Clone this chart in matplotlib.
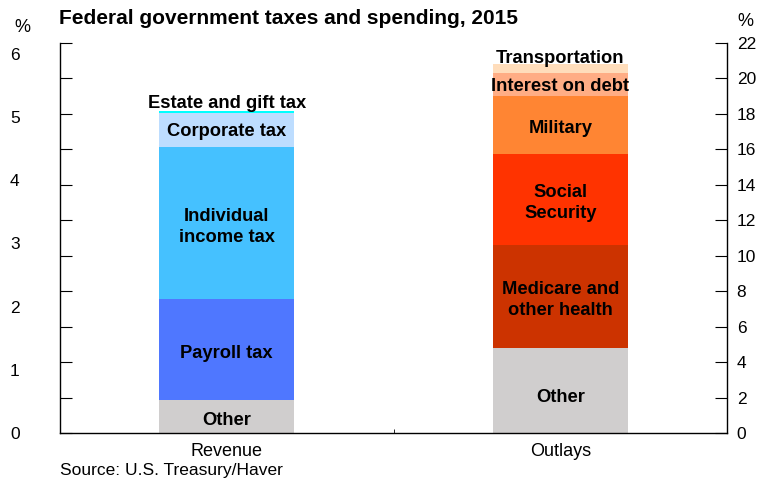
import numpy as np
import matplotlib.pyplot as plt

plt.rcParams['font.family'] = ['Liberation Sans', 'DejaVu Sans']

# Revenue and outlays, % of GDP (bottom to top)
revenue_labels = ["Other", "Payroll tax", "Individual\nincome tax", "Corporate tax", "Estate and gift tax"]
revenue_values = [1.86, 5.70, 8.57, 1.90, 0.12]
revenue_colors = ["#D0CECE", "#4F77FF", "#45C1FF", "#BDDDFF", "#00FFFF"]

outlay_labels = ["Other", "Medicare and\nother health", "Social\nSecurity", "Military",
                 "Interest on debt", "Transportation"]
outlay_values = [4.81, 5.79, 5.14, 3.28, 1.27, 0.51]
outlay_colors = ["#D0CECE", "#CC3300", "#FF3300", "#FF8533", "#FFAD85", "#FFDDBB"]

categories = ["Revenue", "Outlays"]
left_ticks = [0, 1, 2, 3, 4, 5, 6]
right_ticks = list(range(0, 23, 2))
left_scale = 6 / 21.38

my_dpi = 100
fig = plt.figure(figsize=(781 / my_dpi, 483 / my_dpi), dpi=my_dpi)
ax = fig.add_axes([60 / 781, 1 - 433 / 483, 667 / 781, 390 / 483])

width = 0.405
stacks = [(revenue_labels, revenue_values, revenue_colors),
          (outlay_labels, outlay_values, outlay_colors)]
for i, (labels, values, colors) in enumerate(stacks):
    bottom = 0
    for j, (lab, val, col) in enumerate(zip(labels, values, colors)):
        ax.bar(i, val, width, bottom=bottom, color=col, linewidth=0)
        y = bottom + val / 2 - 0.2
        if j == len(labels) - 1:
            # thin top slice: label sits just above the bar
            y = bottom + val + (0.45 if i == 0 else 0.3)
        elif j == len(labels) - 2:
            y = bottom + val / 2 - 0.1
        if i == 1 and j == 0:
            y -= 0.2
        ax.text(i, y, lab, ha='center', va='center', fontsize=13.2,
                fontweight='bold', linespacing=1.3)
        bottom += val

ax.set_xlim(-0.5, 1.5)
ax.set_ylim(0, 22)

ax.spines['top'].set_visible(False)
for s in ['left', 'right', 'bottom']:
    ax.spines[s].set_linewidth(1.0)

ax.set_xticks([0, 1])
ax.set_xticklabels(categories, fontsize=13)
ax.tick_params(axis='x', length=0, pad=7)
ax.set_xticks([0.5], minor=True)
ax.tick_params(axis='x', which='minor', direction='in', length=3)

ax.set_yticks(right_ticks)
ax.tick_params(axis='y', left=True, right=True, labelleft=False, labelright=True,
               direction='in', length=8.5, labelsize=12.5, pad=7)

# left-hand scale
sec = ax.secondary_yaxis('left', functions=(lambda y: y * left_scale, lambda y: y / left_scale))
sec.set_yticks(left_ticks)
sec.tick_params(length=0, labelsize=12.5, pad=29)
sec.spines['left'].set_visible(False)

fig.text(59 / 781, 1 - 18.5 / 483, "Federal government taxes and spending, 2015",
         fontsize=15, fontweight='bold', va='center', ha='left')
fig.text(22 / 781, 1 - 28 / 483, "%", fontsize=13, ha='center', va='center')
fig.text(745 / 781, 1 - 22 / 483, "%", fontsize=13, ha='center', va='center')
fig.text(60 / 781, 1 - 471 / 483, "Source: U.S. Treasury/Haver", fontsize=12.5,
         ha='left', va='center')

plt.savefig("out.png", dpi=my_dpi)
